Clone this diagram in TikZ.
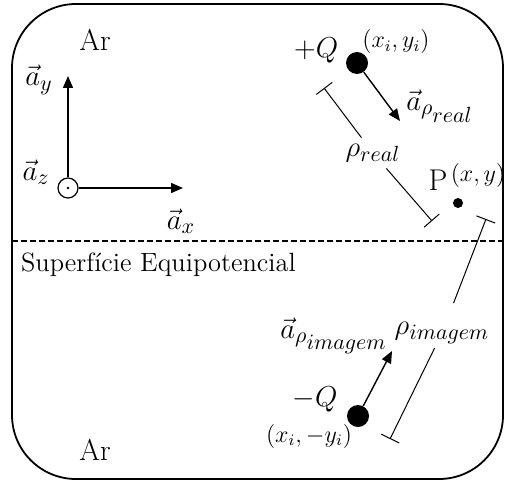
\documentclass[tikz,border=0pt]{standalone}
\usepackage{tikz}
\usetikzlibrary{arrows.meta}

\begin{document}
\begin{tikzpicture}[x=0.5pt,y=-0.5pt,>={Triangle[length=6pt,width=5pt]},
  lbl/.style={font=\fontsize{15}{18}\selectfont},
  sml/.style={font=\fontsize{11.5}{13}\selectfont},
  dim/.style={line width=0.5pt},
  vec/.style={->,line width=0.7pt},
  charge/.style={circle,fill,inner sep=0,minimum size=11pt}]
  \useasboundingbox (0,0) rectangle (506,486);
  % region and the equipotential surface
  \draw[line width=0.9pt,rounded corners=32pt] (12,4) rectangle (503,479);
  \draw[dash pattern=on 3pt off 1.5pt,line width=0.7pt] (12,241) -- (506,241);
  \node[lbl] (arup) at (95,40) {Ar};
  \node[lbl] (ardown) at (95,450) {Ar};
  \node[font=\fontsize{13.2}{16}\selectfont,anchor=west] (surf) at (14,265) {Superfície Equipotencial};
  % unit vectors
  \node[circle,draw,line width=0.6pt,inner sep=0,minimum size=10pt] (orig) at (68,188) {};
  \fill (orig) circle (0.7pt);
  \coordinate (ytip) at (68,76);
  \coordinate (xtip) at (183,188);
  \draw[vec] (orig) -- (ytip);
  \draw[vec] (orig) -- (xtip);
  \node[lbl] (ay) at (39,80) {$\vec{a}_y$};
  \node[lbl] (az) at (36,172) {$\vec{a}_z$};
  \node[lbl] (ax) at (181,221) {$\vec{a}_x$};
  % real charge and point P
  \node[charge] (qreal) at (357,63) {};
  \node[lbl] (qrealtxt) at (316,50) {$+Q$};
  \node[sml] (qrealpos) at (396,42) {$(x_i,y_i)$};
  \coordinate (arealtip) at (400,121);
  \draw[vec] (qreal) -- (arealtip);
  \node[lbl] (areal) at (440,106) {$\vec{a}_{\rho_{\scriptstyle real}}$};
  \node[circle,fill,inner sep=0,minimum size=5pt] (p) at (458,203) {};
  \node[lbl] (ptxt) at (438,180) {P};
  \node[sml] (ppos) at (478,175) {$(x,y)$};
  % image charge
  \node[charge] (qimg) at (358,416) {};
  \node[lbl] (qimgtxt) at (315,399) {$-Q$};
  \node[sml] (qimgpos) at (309,436) {$(x_i,-y_i)$};
  \coordinate (aimgtip) at (392,351);
  \draw[vec] (qimg) -- (aimgtip);
  \node[lbl] (aimg) at (334,336) {$\vec{a}_{\rho_{\scriptstyle imagem}}$};
  % distances
  \coordinate (r1) at (324,88);
  \coordinate (r2) at (432,221);
  \node[lbl,inner sep=3pt] (rreal) at (373,153) {$\rho_{real}$};
  \draw[dim,{Bar[width=10pt]}-] (r1) -- (rreal);
  \draw[dim,-{Bar[width=10pt]}] (rreal) -- (r2);
  \coordinate (m1) at (486,219);
  \coordinate (m2) at (390,439);
  \node[lbl,inner sep=2pt] (rimg) at (442,333) {$\rho_{imagem}$};
  \draw[dim,{Bar[width=10pt]}-,shorten >=8pt] (m1) -- (rimg);
  \draw[dim,-{Bar[width=10pt]}] (rimg) -- (m2);
\end{tikzpicture}
\end{document}
